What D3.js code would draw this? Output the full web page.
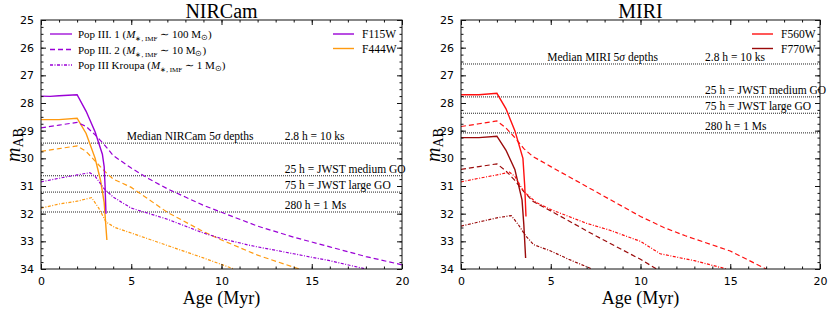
<!DOCTYPE html>
<html lang="en">
<head>
    <title>Pop III magnitudes</title>
    <script src="https://d3js.org/d3.v7.min.js" charset="utf-8"></script>
    <style>
        body { margin: 0; background: white; }
        text { fill: #000; }
    </style>
</head>
<body>
<script>

    var w = 830;
    var h = 310;

    // ---- data: [age (Myr), m_AB] ----
    // NIRCam F115W
    var nir115_pop1 = [[0,27.75],[0.5,27.76],[1,27.74],[2,27.7],[2.5,28.3],[3,29.05],[3.4,29.85],[3.5,30.3],[3.55,31.0],[3.6,32.0]];
    var nir115_pop2 = [[0,28.9],[1,28.8],[2,28.7],[2.5,28.85],[3,29.15],[3.5,29.5],[4,29.9],[5,30.35],[6,30.75],[7,31.1],[8,31.4],[9,31.7],[10,31.95],[12,32.45],[14,32.85],[16,33.2],[18,33.55],[20,33.85]];
    var nir115_kroupa = [[0,30.85],[1,30.72],[2,30.6],[2.7,30.52],[3,30.65],[3.5,31.1],[4,31.4],[5,31.8],[7,32.2],[9,32.7],[10,32.9],[11.6,33.15],[14,33.45],[16,33.7],[18,34.0]];
    // NIRCam F444W
    var nir444_pop1 = [[0,28.6],[1,28.6],[2,28.55],[2.5,29.1],[3,30.0],[3.3,30.8],[3.5,31.6],[3.65,32.95]];
    var nir444_pop2 = [[0,29.75],[1,29.65],[2,29.55],[2.5,29.75],[3,30.1],[3.5,30.45],[4,30.75],[5,31.05],[7,31.95],[9,32.65],[10,32.95],[12,33.5],[14.3,34.0]];
    var nir444_kroupa = [[0,31.8],[1,31.65],[2,31.55],[2.8,31.42],[3.2,31.8],[3.6,32.3],[4.1,32.5],[5,32.7],[7,33.15],[9,33.6],[10.7,34.0]];
    // MIRI F560W
    var miri560_pop1 = [[0,27.7],[1,27.7],[2,27.65],[2.5,28.2],[3,29.0],[3.45,30.0],[3.55,31.0],[3.62,32.1]];
    var miri560_pop2 = [[0,28.85],[1,28.75],[2,28.65],[2.5,28.9],[3,29.25],[3.5,29.65],[4,29.93],[5,30.3],[7.5,31.2],[10,32.1],[11.3,32.5],[12.5,32.8],[15,33.35],[17,34.0]];
    var miri560_kroupa = [[0,30.85],[1,30.72],[2,30.6],[2.7,30.5],[3,30.65],[3.5,31.2],[4.2,31.6],[5,31.85],[7,32.35],[8.3,32.6],[10,33.0],[11.1,33.45],[13,33.7],[14.8,34.0]];
    // MIRI F770W
    var miri770_pop1 = [[0,29.25],[1,29.25],[2,29.2],[2.5,29.7],[3,30.4],[3.4,31.5],[3.5,32.4],[3.6,33.6]];
    var miri770_pop2 = [[0,30.4],[1,30.3],[2,30.2],[2.5,30.45],[3,30.8],[3.5,31.2],[4,31.55],[5,31.9],[7.5,32.8],[10,33.65],[10.9,34.0]];
    var miri770_kroupa = [[0,32.45],[1,32.3],[2,32.15],[2.8,32.07],[3.2,32.4],[3.6,32.8],[4.05,33.12],[5,33.35],[6,33.65],[7.3,34.0]];

    // depth lines
    var nirDepths = [29.45, 30.63, 31.22, 31.94];
    var miriDepths = [26.59, 27.78, 28.37, 29.08];
    var depthLabels = ["2.8 h = 10 ks", "25 h = JWST medium GO", "75 h = JWST large GO", "280 h = 1 Ms"];

    var purple = "#9a00d6", orange = "#ff9a10", red = "#ff1010", darkred = "#9a0a0a";
    var styles = { pop1: null, pop2: "5,3", kroupa: "3,1.5,1,1.5" };
    var serif = "'Liberation Serif', 'Times New Roman', serif";

    var svg = d3.select("body").append("svg")
        .attr("width", w).attr("height", h)
        .attr("font-family", serif);

    function panel(cfg) {
        var x = d3.scaleLinear().domain([0, 20]).range([cfg.x0, cfg.x1]);
        var y = d3.scaleLinear().domain([25, 34]).range([20, 269]);
        var g = svg.append("g").attr("font-family", serif);

        // depth lines
        cfg.depths.forEach(function(d, i) {
            g.append("line")
                .attr("x1", x(0)).attr("x2", x(20))
                .attr("y1", y(d)).attr("y2", y(d))
                .attr("stroke", "#222").attr("stroke-width", 1)
                .attr("stroke-dasharray", "1,1");
            g.append("text")
                .attr("x", x(cfg.labelX)).attr("y", y(d) - 3)
                .attr("font-size", 11.5).text(depthLabels[i]);
        });
        g.append("text")
            .attr("x", x(cfg.medX)).attr("y", y(cfg.depths[0]) - 3)
            .attr("font-size", 11.5)
            .html("Median " + cfg.name + " 5<tspan font-style='italic'>σ</tspan> depths");

        var line = d3.line().x(function(d) { return x(d[0]); }).y(function(d) { return y(d[1]); });
        var clip = "clip-" + cfg.name;
        svg.append("clipPath").attr("id", clip).append("rect")
            .attr("x", x(0)).attr("y", y(25)).attr("width", x(20) - x(0)).attr("height", y(34) - y(25));

        cfg.series.forEach(function(s) {
            g.append("path").datum(s.data)
                .attr("d", line)
                .attr("clip-path", "url(#" + clip + ")")
                .attr("fill", "none")
                .attr("stroke", s.color)
                .attr("stroke-width", s.style === "pop1" ? 1.4 : 1.2)
                .attr("stroke-dasharray", styles[s.style]);
        });

        // frame and ticks
        g.append("rect")
            .attr("x", x(0)).attr("y", y(25))
            .attr("width", x(20) - x(0)).attr("height", y(34) - y(25))
            .attr("fill", "none").attr("stroke", "#111").attr("stroke-width", 1);

        var xb = d3.axisBottom(x).tickValues(d3.range(0, 21, 5)).tickSize(-5).tickPadding(8).tickFormat(d3.format("d"));
        var xbm = d3.axisBottom(x).tickValues(d3.range(0, 21, 1)).tickSize(-2.5).tickFormat("");
        var xt = d3.axisTop(x).tickValues(d3.range(0, 21, 5)).tickSize(-5).tickFormat("");
        var xtm = d3.axisTop(x).tickValues(d3.range(0, 21, 1)).tickSize(-2.5).tickFormat("");
        var yl = d3.axisLeft(y).tickValues(d3.range(25, 35, 1)).tickSize(-5).tickPadding(7).tickFormat(d3.format("d"));
        var ylm = d3.axisLeft(y).tickValues(d3.range(25, 34.01, 0.25)).tickSize(-2.5).tickFormat("");
        var yr = d3.axisRight(y).tickValues(d3.range(25, 35, 1)).tickSize(-5).tickFormat("");
        var yrm = d3.axisRight(y).tickValues(d3.range(25, 34.01, 0.25)).tickSize(-2.5).tickFormat("");

        [[xb, "translate(0," + y(34) + ")"], [xbm, "translate(0," + y(34) + ")"],
         [xt, "translate(0," + y(25) + ")"], [xtm, "translate(0," + y(25) + ")"],
         [yl, "translate(" + x(0) + ",0)"], [ylm, "translate(" + x(0) + ",0)"],
         [yr, "translate(" + x(20) + ",0)"], [yrm, "translate(" + x(20) + ",0)"]].forEach(function(a) {
            var ax = g.append("g").attr("transform", a[1]).call(a[0]);
            ax.select(".domain").remove();
            ax.selectAll("line").attr("stroke", "#111");
            ax.selectAll("text").attr("font-family", "'DejaVu Sans', sans-serif").attr("font-size", 11).attr("fill", "#000");
        });

        // titles
        g.append("text").attr("x", (x(0) + x(20)) / 2).attr("y", 18)
            .attr("text-anchor", "middle").attr("font-size", 20).text(cfg.name);
        g.append("text").attr("x", (x(0) + x(20)) / 2).attr("y", 304)
            .attr("text-anchor", "middle").attr("font-size", 18).text("Age (Myr)");
        g.append("text")
            .attr("transform", "translate(" + (x(0) - 21) + ",145) rotate(-90)")
            .attr("text-anchor", "middle").attr("font-size", 20)
            .html("<tspan font-style='italic'>m</tspan><tspan font-size='14' dy='3'>AB</tspan>");

        // legend for filters
        cfg.filters.forEach(function(f, i) {
            var ly = 34 + i * 14.5;
            g.append("line").attr("x1", cfg.legX).attr("x2", cfg.legX + 21)
                .attr("y1", ly).attr("y2", ly)
                .attr("stroke", f.color).attr("stroke-width", 1.4);
            g.append("text").attr("x", cfg.legX + 29).attr("y", ly + 4)
                .attr("font-size", 11.5).text(f.name);
        });
        return g;
    }

    var left = panel({
        name: "NIRCam", x0: 41, x1: 402, depths: nirDepths, labelX: 13.5, medX: 4.75, legX: 333,
        filters: [{name: "F115W", color: purple}, {name: "F444W", color: orange}],
        series: [
            {data: nir444_kroupa, color: orange, style: "kroupa"},
            {data: nir444_pop2, color: orange, style: "pop2"},
            {data: nir444_pop1, color: orange, style: "pop1"},
            {data: nir115_kroupa, color: purple, style: "kroupa"},
            {data: nir115_pop2, color: purple, style: "pop2"},
            {data: nir115_pop1, color: purple, style: "pop1"}
        ]
    });

    panel({
        name: "MIRI", x0: 461, x1: 820, depths: miriDepths, labelX: 13.6, medX: 4.8, legX: 752,
        filters: [{name: "F560W", color: red}, {name: "F770W", color: darkred}],
        series: [
            {data: miri770_kroupa, color: darkred, style: "kroupa"},
            {data: miri770_pop2, color: darkred, style: "pop2"},
            {data: miri770_pop1, color: darkred, style: "pop1"},
            {data: miri560_kroupa, color: red, style: "kroupa"},
            {data: miri560_pop2, color: red, style: "pop2"},
            {data: miri560_pop1, color: red, style: "pop1"}
        ]
    });

    // population legend (NIRCam panel)
    var popLegend = [
        {style: "pop1", label: "Pop III. 1 (", mass: "100"},
        {style: "pop2", label: "Pop III. 2 (", mass: "10"},
        {style: "kroupa", label: "Pop III Kroupa (", mass: "1"}
    ];
    popLegend.forEach(function(p, i) {
        var ly = 34 + i * 15.5;
        left.append("line").attr("x1", 50).attr("x2", 72).attr("y1", ly).attr("y2", ly)
            .attr("stroke", purple).attr("stroke-width", 1.3)
            .attr("stroke-dasharray", styles[p.style]);
        left.append("text").attr("x", 78).attr("y", ly + 4).attr("font-size", 11)
            .html(p.label + "<tspan font-style='italic'>M</tspan><tspan font-size='7' dy='3'>∗, IMF</tspan><tspan dy='-3'> ∼ " + p.mass + " M</tspan><tspan font-size='7.5' dy='2'>⊙</tspan><tspan dy='-2'>)</tspan>");
    });

</script>
</body>
</html>
